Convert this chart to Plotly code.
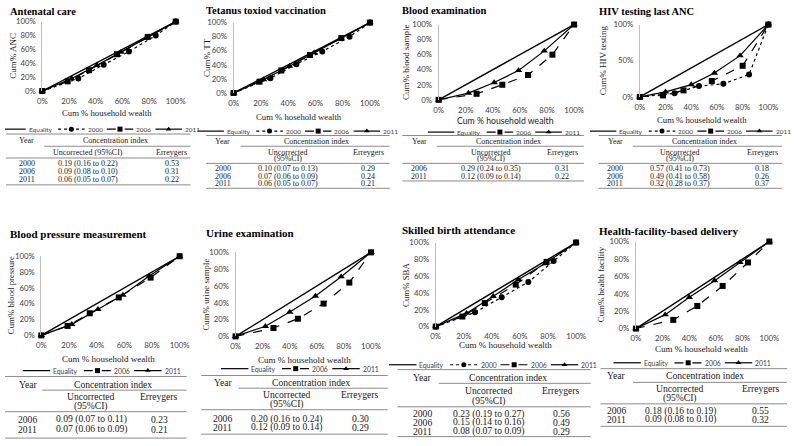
import plotly.graph_objects as go

W, H = 797, 446

# ---------------- data ----------------
eq_x = [0, 1]
eq_y = [0, 1]
pct_ticks = [0, 0.2, 0.4, 0.6, 0.8, 1.0]
pct_labels = ["0%", "20%", "40%", "60%", "80%", "100%"]
hiv_yticks = [0, 0.5, 1.0]
hiv_ylabels = ["0%", "50%", "100%"]

# Antenatal care
anc_x00 = [0, 0.27, 0.46, 0.65, 0.85, 1]
anc_y00 = [0, 0.18, 0.38, 0.57, 0.80, 1]
anc_x06 = [0, 0.19, 0.35, 0.56, 0.79, 1]
anc_y06 = [0, 0.14, 0.30, 0.53, 0.78, 1]
anc_x11 = [0, 0.22, 0.41, 0.59, 0.78, 1]
anc_y11 = [0, 0.18, 0.37, 0.56, 0.77, 1]
# Tetanus toxoid
tt_x00 = [0, 0.27, 0.46, 0.65, 0.85, 1]
tt_y00 = [0, 0.21, 0.41, 0.59, 0.80, 1]
tt_x06 = [0, 0.19, 0.35, 0.56, 0.79, 1]
tt_y06 = [0, 0.16, 0.32, 0.54, 0.78, 1]
tt_x11 = [0, 0.22, 0.41, 0.59, 0.78, 1]
tt_y11 = [0, 0.19, 0.38, 0.57, 0.77, 1]
# Blood examination
be_x06 = [0, 0.28, 0.47, 0.66, 0.84, 1]
be_y06 = [0, 0.08, 0.20, 0.33, 0.60, 1]
be_x11 = [0, 0.22, 0.41, 0.59, 0.78, 1]
be_y11 = [0, 0.09, 0.23, 0.39, 0.65, 1]
# HIV testing
hiv_x00 = [0, 0.27, 0.46, 0.65, 0.85, 1]
hiv_y00 = [0, 0.05, 0.15, 0.18, 0.31, 1]
hiv_x06 = [0, 0.18, 0.34, 0.56, 0.80, 1]
hiv_y06 = [0, 0.02, 0.09, 0.22, 0.43, 1]
hiv_x11 = [0, 0.20, 0.40, 0.58, 0.78, 1]
hiv_y11 = [0, 0.07, 0.17, 0.33, 0.57, 1]
# Blood pressure
bp_x06 = [0, 0.19, 0.35, 0.56, 0.79, 1]
bp_y06 = [0, 0.12, 0.28, 0.48, 0.73, 1]
bp_x11 = [0, 0.22, 0.41, 0.59, 0.78, 1]
bp_y11 = [0, 0.14, 0.33, 0.51, 0.75, 1]
# Urine examination
ur_x06 = [0, 0.28, 0.46, 0.65, 0.84, 1]
ur_y06 = [0, 0.10, 0.21, 0.39, 0.64, 1]
ur_x11 = [0, 0.22, 0.40, 0.59, 0.78, 1]
ur_y11 = [0, 0.12, 0.29, 0.48, 0.71, 1]
# Skilled birth attendance
sba_x00 = [0, 0.28, 0.47, 0.66, 0.84, 1]
sba_y00 = [0, 0.17, 0.35, 0.53, 0.78, 1]
sba_x06 = [0, 0.19, 0.35, 0.57, 0.79, 1]
sba_y06 = [0, 0.12, 0.28, 0.50, 0.77, 1]
sba_x11 = [0, 0.22, 0.41, 0.59, 0.78, 1]
sba_y11 = [0, 0.16, 0.36, 0.56, 0.75, 1]
# Health facility delivery
hf_x06 = [0, 0.28, 0.46, 0.65, 0.84, 1]
hf_y06 = [0, 0.10, 0.26, 0.49, 0.76, 1]
hf_x11 = [0, 0.22, 0.40, 0.59, 0.78, 1]
hf_y11 = [0, 0.16, 0.36, 0.55, 0.76, 1]

# Tables
anc_years = ["2000", "2006", "2011"]
anc_ci = ["0.19 (0.16 to 0.22)", "0.09 (0.08 to 0.10)", "0.06 (0.05 to 0.07)"]
anc_err = ["0.53", "0.31", "0.22"]
tt_years = ["2000", "2006", "2011"]
tt_ci = ["0.10 (0.07 to 0.13)", "0.07 (0.06 to 0.09)", "0.06 (0.05 to 0.07)"]
tt_err = ["0.29", "0.24", "0.21"]
be_years = ["2006", "2011"]
be_ci = ["0.29 (0.24 to 0.35)", "0.12 (0.09 to 0.14)"]
be_err = ["0.31", "0.22"]
hiv_years = ["2000", "2006", "2011"]
hiv_ci = ["0.57 (0.41 to 0.73)", "0.49 (0.41 to 0.58)", "0.32 (0.28 to 0.37)"]
hiv_err = ["0.18", "0.26", "0.37"]
bp_years = ["2006", "2011"]
bp_ci = ["0.09 (0.07 to 0.11)", "0.07 (0.06 to 0.09)"]
bp_err = ["0.23", "0.21"]
ur_years = ["2006", "2011"]
ur_ci = ["0.20 (0.16 to 0.24)", "0.12 (0.09 to 0.14)"]
ur_err = ["0.30", "0.29"]
sba_years = ["2000", "2006", "2011"]
sba_ci = ["0.23 (0.19 to 0.27)", "0.15 (0.14 to 0.16)", "0.08 (0.07 to 0.09)"]
sba_err = ["0.56", "0.49", "0.29"]
hf_years = ["2006", "2011"]
hf_ci = ["0.18 (0.16 to 0.19)", "0.09 (0.08 to 0.10)"]
hf_err = ["0.55", "0.32"]

# ---------------- styling ----------------
SERIF = "Liberation Serif"
SANS = "Lato"
TXT = "#1a1a1a"
TICK = "#404040"
RULE = "#8c8c8c"
STYLE = {"2000": ("dot", "circle", 6),
         "2006": ("dash", "square", 6),
         "2011": ("solid", "triangle-up", 6.5)}
TOP_FS = 8.0
BOT_FS = 9.6


def PX(x):
    return x / W


def PY(y):
    return 1 - y / H


TOP_TAB = dict(top=133.5, head=139.5, mid=144.5, sub=[("Uncorrected", 150.5), ("(95%CI)", 157.5)],
               erry=150.5, subl=162, rows=[167.5, 175, 182.5], bot=187.5, fs=TOP_FS)

panels = [
    dict(title="Antenatal care", tpos=(4, 7), box=(38, 174, 17, 88), tfs=7.8,
         ytitle="Cum% ANC", ytpos=(8, 52), xtitle="Cum % household wealth", xtpos=(104, 110), xsans=False,
         series=[("2000", anc_x00, anc_y00), ("2006", anc_x06, anc_y06), ("2011", anc_x11, anc_y11)],
         leg=(96, 127), yt=(pct_ticks, pct_labels),
         table=dict(l=1, r=189, ml=40, yx=22, cx=113, ux=85, ex=170, top=132, head=138.5, mid=144.5,
                    sub=[("Uncorrected (95%CI)", 150.5)], erry=150.5, subl=156.5, rows=[162.5, 170.5, 178.5],
                    bot=184, fs=TOP_FS),
         tab=(anc_years, anc_ci, anc_err)),
    dict(title="Tetanus toxiod vaccination", tpos=(204, 6), box=(233, 372, 18, 90), tfs=7.8,
         ytitle="Cum% TT", ytpos=(206, 54), xtitle="Cum % hosehold wealth", xtpos=(300, 115), xsans=False,
         series=[("2000", tt_x00, tt_y00), ("2006", tt_x06, tt_y06), ("2011", tt_x11, tt_y11)],
         leg=(298, 129), yt=(pct_ticks, pct_labels),
         table=dict(TOP_TAB, l=205, r=392, ml=240, yx=222, cx=317, ux=288, ex=370),
         tab=(tt_years, tt_ci, tt_err)),
    dict(title="Blood examination", tpos=(404, 6), box=(442, 580, 20, 97), tfs=7.8,
         ytitle="Cum% blood sample", ytpos=(408, 58), xtitle="Cum % household wealth", xtpos=(510, 118), xsans=True,
         series=[("2006", be_x06, be_y06), ("2011", be_x11, be_y11)],
         leg=(508, 130), yt=(pct_ticks, pct_labels),
         table=dict(TOP_TAB, l=405, r=590, ml=440, yx=422, cx=513, ux=495, ex=568, rows=[167.5, 175], bot=180),
         tab=(be_years, be_ci, be_err)),
    dict(title="HIV testing last ANC", tpos=(604, 7), box=(647, 778, 20, 94), tfs=7.8,
         ytitle="Cum% HIV testing", ytpos=(609, 57), xtitle="Cum % household wealth", xtpos=(710, 118), xsans=False,
         series=[("2000", hiv_x00, hiv_y00), ("2006", hiv_x06, hiv_y06), ("2011", hiv_x11, hiv_y11)],
         leg=(698, 129), yt=(hiv_yticks, hiv_ylabels),
         table=dict(TOP_TAB, l=605, r=792, ml=640, yx=622, cx=713, ux=688, ex=772),
         tab=(hiv_years, hiv_ci, hiv_err)),
    dict(title="Blood pressure measurement", tpos=(4, 234), box=(37, 178, 257, 338), tfs=7.8,
         ytitle="Cum% blood pressure", ytpos=(6, 297), xtitle="Cum % household wealth", xtpos=(105, 362), xsans=False,
         series=[("2006", bp_x06, bp_y06), ("2011", bp_x11, bp_y11)],
         leg=(98, 374), yt=(pct_ticks, pct_labels),
         table=dict(l=0, r=185, ml=38, yx=23, cx=110, ux=88, ex=157, top=380, head=388.5, mid=394,
                    sub=[("Uncorrected", 400), ("(95%CI)", 410)], erry=400, subl=416, rows=[424, 434], bot=443, fs=BOT_FS),
         tab=(bp_years, bp_ci, bp_err)),
    dict(title="Urine examination", tpos=(204, 233), box=(235, 373, 253, 339), tfs=7.8,
         ytitle="Cum% urine sample", ytpos=(205, 296), xtitle="Cum % household wealth", xtpos=(305, 363), xsans=False,
         series=[("2006", ur_x06, ur_y06), ("2011", ur_x11, ur_y11)],
         leg=(300, 372), yt=(pct_ticks, pct_labels),
         table=dict(l=200, r=390, ml=238, yx=222, cx=312, ux=287, ex=362, top=379, head=386.5, mid=392,
                    sub=[("Uncorrected", 398), ("(95%CI)", 408)], erry=398, subl=414, rows=[423, 432], bot=439, fs=BOT_FS),
         tab=(ur_years, ur_ci, ur_err)),
    dict(title="Skilled birth attendance", tpos=(404, 230), box=(439, 582, 243, 329), tfs=7.8,
         ytitle="Cum% SBA", ytpos=(408, 286), xtitle="Cum % household wealth", xtpos=(510, 348), xsans=False,
         series=[("2000", sba_x00, sba_y00), ("2006", sba_x06, sba_y06), ("2011", sba_x11, sba_y11)],
         leg=(497, 368), yt=(pct_ticks, pct_labels),
         table=dict(l=400, r=597, ml=442, yx=425, cx=513, ux=493, ex=567, top=373, head=381.5, mid=387,
                    sub=[("Uncorrected", 394.5), ("(95%CI)", 405)], erry=394.5, subl=411, rows=[418, 427, 436], bot=441.5, fs=BOT_FS),
         tab=(sba_years, sba_ci, sba_err)),
    dict(title="Health-facility-based delivery", tpos=(604, 231), box=(643, 779, 242, 331), tfs=7.8,
         ytitle="Cum% health facility", ytpos=(607, 286), xtitle="Cum % household wealth", xtpos=(710, 352), xsans=False,
         series=[("2006", hf_x06, hf_y06), ("2011", hf_x11, hf_y11)],
         leg=(700, 366), yt=(pct_ticks, pct_labels),
         table=dict(l=607, r=797, ml=640, yx=623, cx=713, ux=688, ex=770, top=372, head=379.5, mid=386,
                    sub=[("Uncorrected", 392), ("(95%CI)", 402.5)], erry=392, subl=408, rows=[415, 424], bot=431, fs=BOT_FS),
         tab=(hf_years, hf_ci, hf_err)),
]

fig = go.Figure()
annotations = []
shapes = []
layout = {}


def ann(text, x, y, size, family=SERIF, xanchor="center", textangle=0, bold=False, color=TXT):
    annotations.append(dict(
        text=("<b>%s</b>" % text) if bold else text, x=PX(x), y=PY(y), xref="paper", yref="paper",
        xanchor=xanchor, yanchor="middle", showarrow=False, textangle=textangle, borderpad=0,
        font=dict(family=family, size=size, color=color)))


def hline(x0, x1, y, color=RULE, width=1):
    shapes.append(dict(type="line", xref="paper", yref="paper", x0=PX(x0), x1=PX(x1),
                       y0=PY(y), y1=PY(y), line=dict(color=color, width=width)))


LEG_AX = "x9"
LEG_AY = "y9"


def legend(cx, y, items, fs, seg):
    cw = fs * 0.5
    widths = [len(lbl) * cw + (0.4 if lbl[0].isdigit() else 0) * fs for lbl, _, _ in items]
    gap1, gap2 = 2, 5
    total = sum(seg + gap1 + w for w in widths) + gap2 * (len(items) - 1)
    x = cx - total / 2
    for (lbl, dash, sym), w in zip(items, widths):
        fig.add_trace(go.Scatter(x=[x, x + seg], y=[y, y], mode="lines", xaxis=LEG_AX, yaxis=LEG_AY,
                                 line=dict(color="black", width=1.2, dash=dash), showlegend=False,
                                 hoverinfo="skip"))
        if sym:
            fig.add_trace(go.Scatter(x=[x + seg / 2], y=[y], mode="markers", xaxis=LEG_AX, yaxis=LEG_AY,
                                     marker=dict(symbol=sym, size=5, color="black"), showlegend=False,
                                     hoverinfo="skip", cliponaxis=False))
        annotations.append(dict(text=lbl, x=(x + seg + gap1), y=y, xref=LEG_AX, yref=LEG_AY,
                                xanchor="left", yanchor="middle", showarrow=False, borderpad=0,
                                font=dict(family=SANS, size=fs, color=TICK)))
        x += seg + gap1 + w + gap2


for i, p in enumerate(panels, start=1):
    xa = "x" if i == 1 else "x%d" % i
    ya = "y" if i == 1 else "y%d" % i
    xl = "xaxis" if i == 1 else "xaxis%d" % i
    yl = "yaxis" if i == 1 else "yaxis%d" % i
    x0, x1, yt, yb = p["box"]
    top = i <= 4
    fig.add_trace(go.Scatter(x=eq_x, y=eq_y, mode="lines", xaxis=xa, yaxis=ya,
                             line=dict(color="black", width=1.4), showlegend=False, cliponaxis=False))
    for name, sx, sy in p["series"]:
        dash, sym, ms = STYLE[name]
        fig.add_trace(go.Scatter(x=sx, y=sy, mode="lines+markers", xaxis=xa, yaxis=ya, name=name,
                                 line=dict(color="black", width=1.2, dash=dash),
                                 marker=dict(symbol=sym, size=ms, color="black"),
                                 showlegend=False, cliponaxis=False))
    layout[xl] = dict(domain=[PX(x0), PX(x1)], range=[0, 1], anchor=ya, tickvals=pct_ticks,
                      ticktext=pct_labels, showgrid=False, zeroline=False, showline=False, ticks="",
                      ticklabelstandoff=4,
                      tickfont=dict(family=SANS, size=p["tfs"], color=TICK), fixedrange=True)
    layout[yl] = dict(domain=[PY(yb), PY(yt)], range=[0, 1], anchor=xa, tickvals=p["yt"][0],
                      ticktext=p["yt"][1], showgrid=False, zeroline=False, showline=True,
                      linecolor="#bfbfbf", linewidth=1, ticks="", ticklabelstandoff=4,
                      tickfont=dict(family=SANS, size=p["tfs"], color=TICK), fixedrange=True)
    ann(p["title"], p["tpos"][0], p["tpos"][1], 10.5 if top else 11, xanchor="left", bold=True, color="black")
    ann(p["ytitle"], p["ytpos"][0], p["ytpos"][1], 9 if top else 8.8, textangle=-90)
    ann(p["xtitle"], p["xtpos"][0], p["xtpos"][1], 8.7 if top else 9,
        family=SANS if p["xsans"] else SERIF)
    items = [("Equality", "solid", None)]
    for name, _, _ in p["series"]:
        dash, sym, _ = STYLE[name]
        items.append((name, dash, sym))
    legend(p["leg"][0], p["leg"][1], items, 6.5 if top else 6.8, 27 if top else 28)
    t = p["table"]
    fs = t["fs"]
    hline(t["l"], t["r"], t["top"])
    ann("Year", t["yx"], t["head"], fs)
    ann("Concentration index", t["cx"], t["head"], fs)
    hline(t["ml"], t["r"], t["mid"])
    for txt, yy in t["sub"]:
        ann(txt, t["ux"], yy, fs)
    ann("Erreygers", t["ex"], t["erry"], fs)
    hline(t["l"], t["r"], t["subl"])
    years, ci, err = p["tab"]
    for yy, yr, c, e in zip(t["rows"], years, ci, err):
        ann(yr, t["yx"], yy, fs)
        ann(c, t["ux"], yy, fs)
        ann(e, t["ex"], yy, fs)
    hline(t["l"], t["r"], t["bot"])

layout["xaxis9"] = dict(domain=[0, 1], range=[0, W], visible=False, anchor="y9", fixedrange=True)
layout["yaxis9"] = dict(domain=[0, 1], range=[H, 0], visible=False, anchor="x9", fixedrange=True)

fig.update_layout(width=W, height=H, margin=dict(l=0, r=0, t=0, b=0), autosize=False,
                  paper_bgcolor="white", plot_bgcolor="rgba(0,0,0,0)", showlegend=False,
                  annotations=annotations, shapes=shapes, **layout)

fig.write_html("out.html", config={"displayModeBar": False, "staticPlot": True},
               post_script="document.body.style.margin='0';document.body.style.overflow='hidden';")
